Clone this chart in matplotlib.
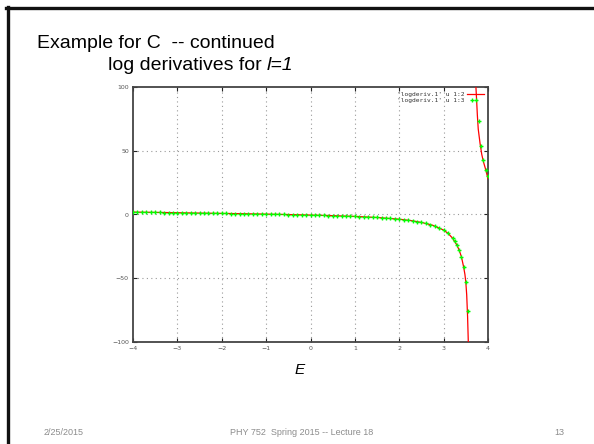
import matplotlib
matplotlib.use("Agg")
import matplotlib.pyplot as plt
from matplotlib.lines import Line2D

# ---- data: log derivative for l=1 versus energy E ----
# column 2 (solid line), lower branch and upper branch past the pole
line_E_low = [-4.0, -3.5, -3.0, -2.5, -2.0, -1.5, -1.0, -0.5, 0.0, 0.5, 1.0,
              1.5, 2.0, 2.25, 2.5, 2.75, 3.0, 3.1, 3.2, 3.3, 3.35, 3.4, 3.45,
              3.48, 3.5, 3.52, 3.54, 3.56]
line_v_low = [1.9, 1.65, 1.4, 1.1, 0.85, 0.6, 0.3, -0.05, -0.45, -0.9, -1.5,
              -2.35, -3.7, -4.7, -6.2, -8.4, -12.2, -14.8, -18.5, -24, -28,
              -33, -41, -47, -53, -63, -80, -105]
line_E_up = [3.72, 3.74, 3.76, 3.78, 3.82, 3.86, 3.9, 3.95, 4.0]
line_v_up = [105, 92, 78, 67, 56, 47, 41, 35, 28]

# column 3 (points)
pts_E = [-4.0, -3.9, -3.8, -3.7, -3.6, -3.5, -3.4, -3.3, -3.2, -3.1, -3.0,
         -2.9, -2.8, -2.7, -2.6, -2.5, -2.4, -2.3, -2.2, -2.1, -2.0, -1.9,
         -1.8, -1.7, -1.6, -1.5, -1.4, -1.3, -1.2, -1.1, -1.0, -0.9, -0.8,
         -0.7, -0.6, -0.5, -0.4, -0.3, -0.2, -0.1, 0.0, 0.1, 0.2, 0.3, 0.4,
         0.5, 0.6, 0.7, 0.8, 0.9, 1.0, 1.1, 1.2, 1.3, 1.4, 1.5, 1.6, 1.7,
         1.8, 1.9, 2.0, 2.1, 2.2, 2.3, 2.4, 2.5, 2.6, 2.7, 2.8, 2.9, 3.0,
         3.1, 3.2, 3.25, 3.3, 3.35, 3.4, 3.45, 3.5, 3.55,
         3.63, 3.79, 3.84, 3.89, 3.95, 3.99]
pts_v = [1.9, 1.85, 1.8, 1.75, 1.7, 1.65, 1.6, 1.55, 1.5, 1.45, 1.4,
         1.35, 1.3, 1.25, 1.2, 1.1, 1.05, 1.0, 0.95, 0.9, 0.85, 0.8,
         0.75, 0.7, 0.65, 0.6, 0.5, 0.45, 0.4, 0.35, 0.3, 0.2, 0.15,
         0.1, 0.0, -0.05, -0.15, -0.2, -0.3, -0.35, -0.45, -0.55, -0.6, -0.7, -0.8,
         -0.9, -1.0, -1.1, -1.25, -1.35, -1.5, -1.65, -1.8, -1.95, -2.15, -2.35, -2.6, -2.85,
         -3.1, -3.4, -3.7, -4.1, -4.5, -5.0, -5.6, -6.2, -7.0, -7.9, -9.0, -10.4, -12.2,
         -14.8, -18.5, -21, -24, -28, -33, -41, -53, -76,
         90, 73, 54, 43, 35, 30]

x_ticks = [-4, -3, -2, -1, 0, 1, 2, 3, 4]
y_ticks = [-100, -50, 0, 50, 100]

title_1 = "Example for C  -- continued"
title_2 = "log derivatives for "
title_2_it = "l=1"
footer_left = "2/25/2015"
footer_mid = "PHY 752  Spring 2015 -- Lecture 18"
footer_right = "13"

W, H = 594, 444
fig = plt.figure(figsize=(W / 100, H / 100), dpi=100)
fig.patch.set_facecolor("white")

# slide frame (top and left edges)
fig.add_artist(Line2D([6 / W, 1.0], [1 - 8.5 / H, 1 - 8.5 / H],
                      transform=fig.transFigure, color="#111111", lw=2.4))
fig.add_artist(Line2D([7.5 / W, 7.5 / W], [0.0, 1 - 7 / H],
                      transform=fig.transFigure, color="#111111", lw=2.4))

ax = fig.add_axes([133 / W, 1 - 342 / H, (488 - 133) / W, (342 - 87) / H])
ax.set_xlim(-4, 4)
ax.set_ylim(-100, 100)

ax.plot(line_E_low, line_v_low, color="#ff0000", lw=0.9, zorder=3,
        label="'logderiv.1' u 1:2")
ax.plot(line_E_up, line_v_up, color="#ff0000", lw=0.9, zorder=3)
ax.plot(pts_E, pts_v, ls="none", marker="+", color="#00ff00", ms=3.4,
        mew=1.0, zorder=4, label="'logderiv.1' u 1:3")

ax.set_xticks(x_ticks)
ax.set_yticks(y_ticks)
ax.set_xticklabels([str(t).replace("-", "\u2212") for t in x_ticks])
ax.set_yticklabels([str(t).replace("-", "\u2212") for t in y_ticks])
ax.tick_params(direction="in", length=3, width=0.8, top=True, right=True,
               labelsize=4.5, labelcolor="#555555", color="#222222", pad=3)
for s in ax.spines.values():
    s.set_color("#444444")
    s.set_linewidth(1.3)

# dotted grid at interior ticks
for xv in x_ticks[1:-1]:
    ax.axvline(xv, color="#999999", lw=0.8, ls=(0, (1, 3)), zorder=1)
for yv in y_ticks[1:-1]:
    ax.axhline(yv, color="#999999", lw=0.8, ls=(0, (1, 3)), zorder=1)

leg = ax.legend(loc="upper right", frameon=False, markerfirst=False,
                prop={"family": "DejaVu Sans Mono", "size": 4.5},
                handlelength=2.6, handletextpad=0.4, borderaxespad=0.3,
                labelspacing=0.1)
for t in leg.get_texts():
    t.set_color("#333333")

fig.text(300 / W, 1 - 370 / H, "E", ha="center", va="center",
         fontsize=11, style="italic", family="Liberation Sans")

# slide texts
fig.text(37 / W, 1 - 43 / H, title_1, fontsize=14, family="Liberation Sans",
         ha="left", va="center")
t2 = fig.text(108 / W, 1 - 66 / H, title_2, fontsize=14,
              family="Liberation Sans", ha="left", va="center")
fig.canvas.draw()
bb = t2.get_window_extent()
fig.text(bb.x1 / W, 1 - 66 / H, title_2_it, fontsize=14,
         family="Liberation Sans", style="italic", ha="left", va="center")

fig.text(44 / W, 1 - 432 / H, footer_left, fontsize=6.5, color="#8c8c8c",
         family="Liberation Sans", ha="left", va="center")
fig.text(302 / W, 1 - 432 / H, footer_mid, fontsize=6.5, color="#8c8c8c",
         family="Liberation Sans", ha="center", va="center")
fig.text(564 / W, 1 - 432 / H, footer_right, fontsize=6.5, color="#8c8c8c",
         family="Liberation Sans", ha="right", va="center")

fig.savefig("out.png", dpi=100)
